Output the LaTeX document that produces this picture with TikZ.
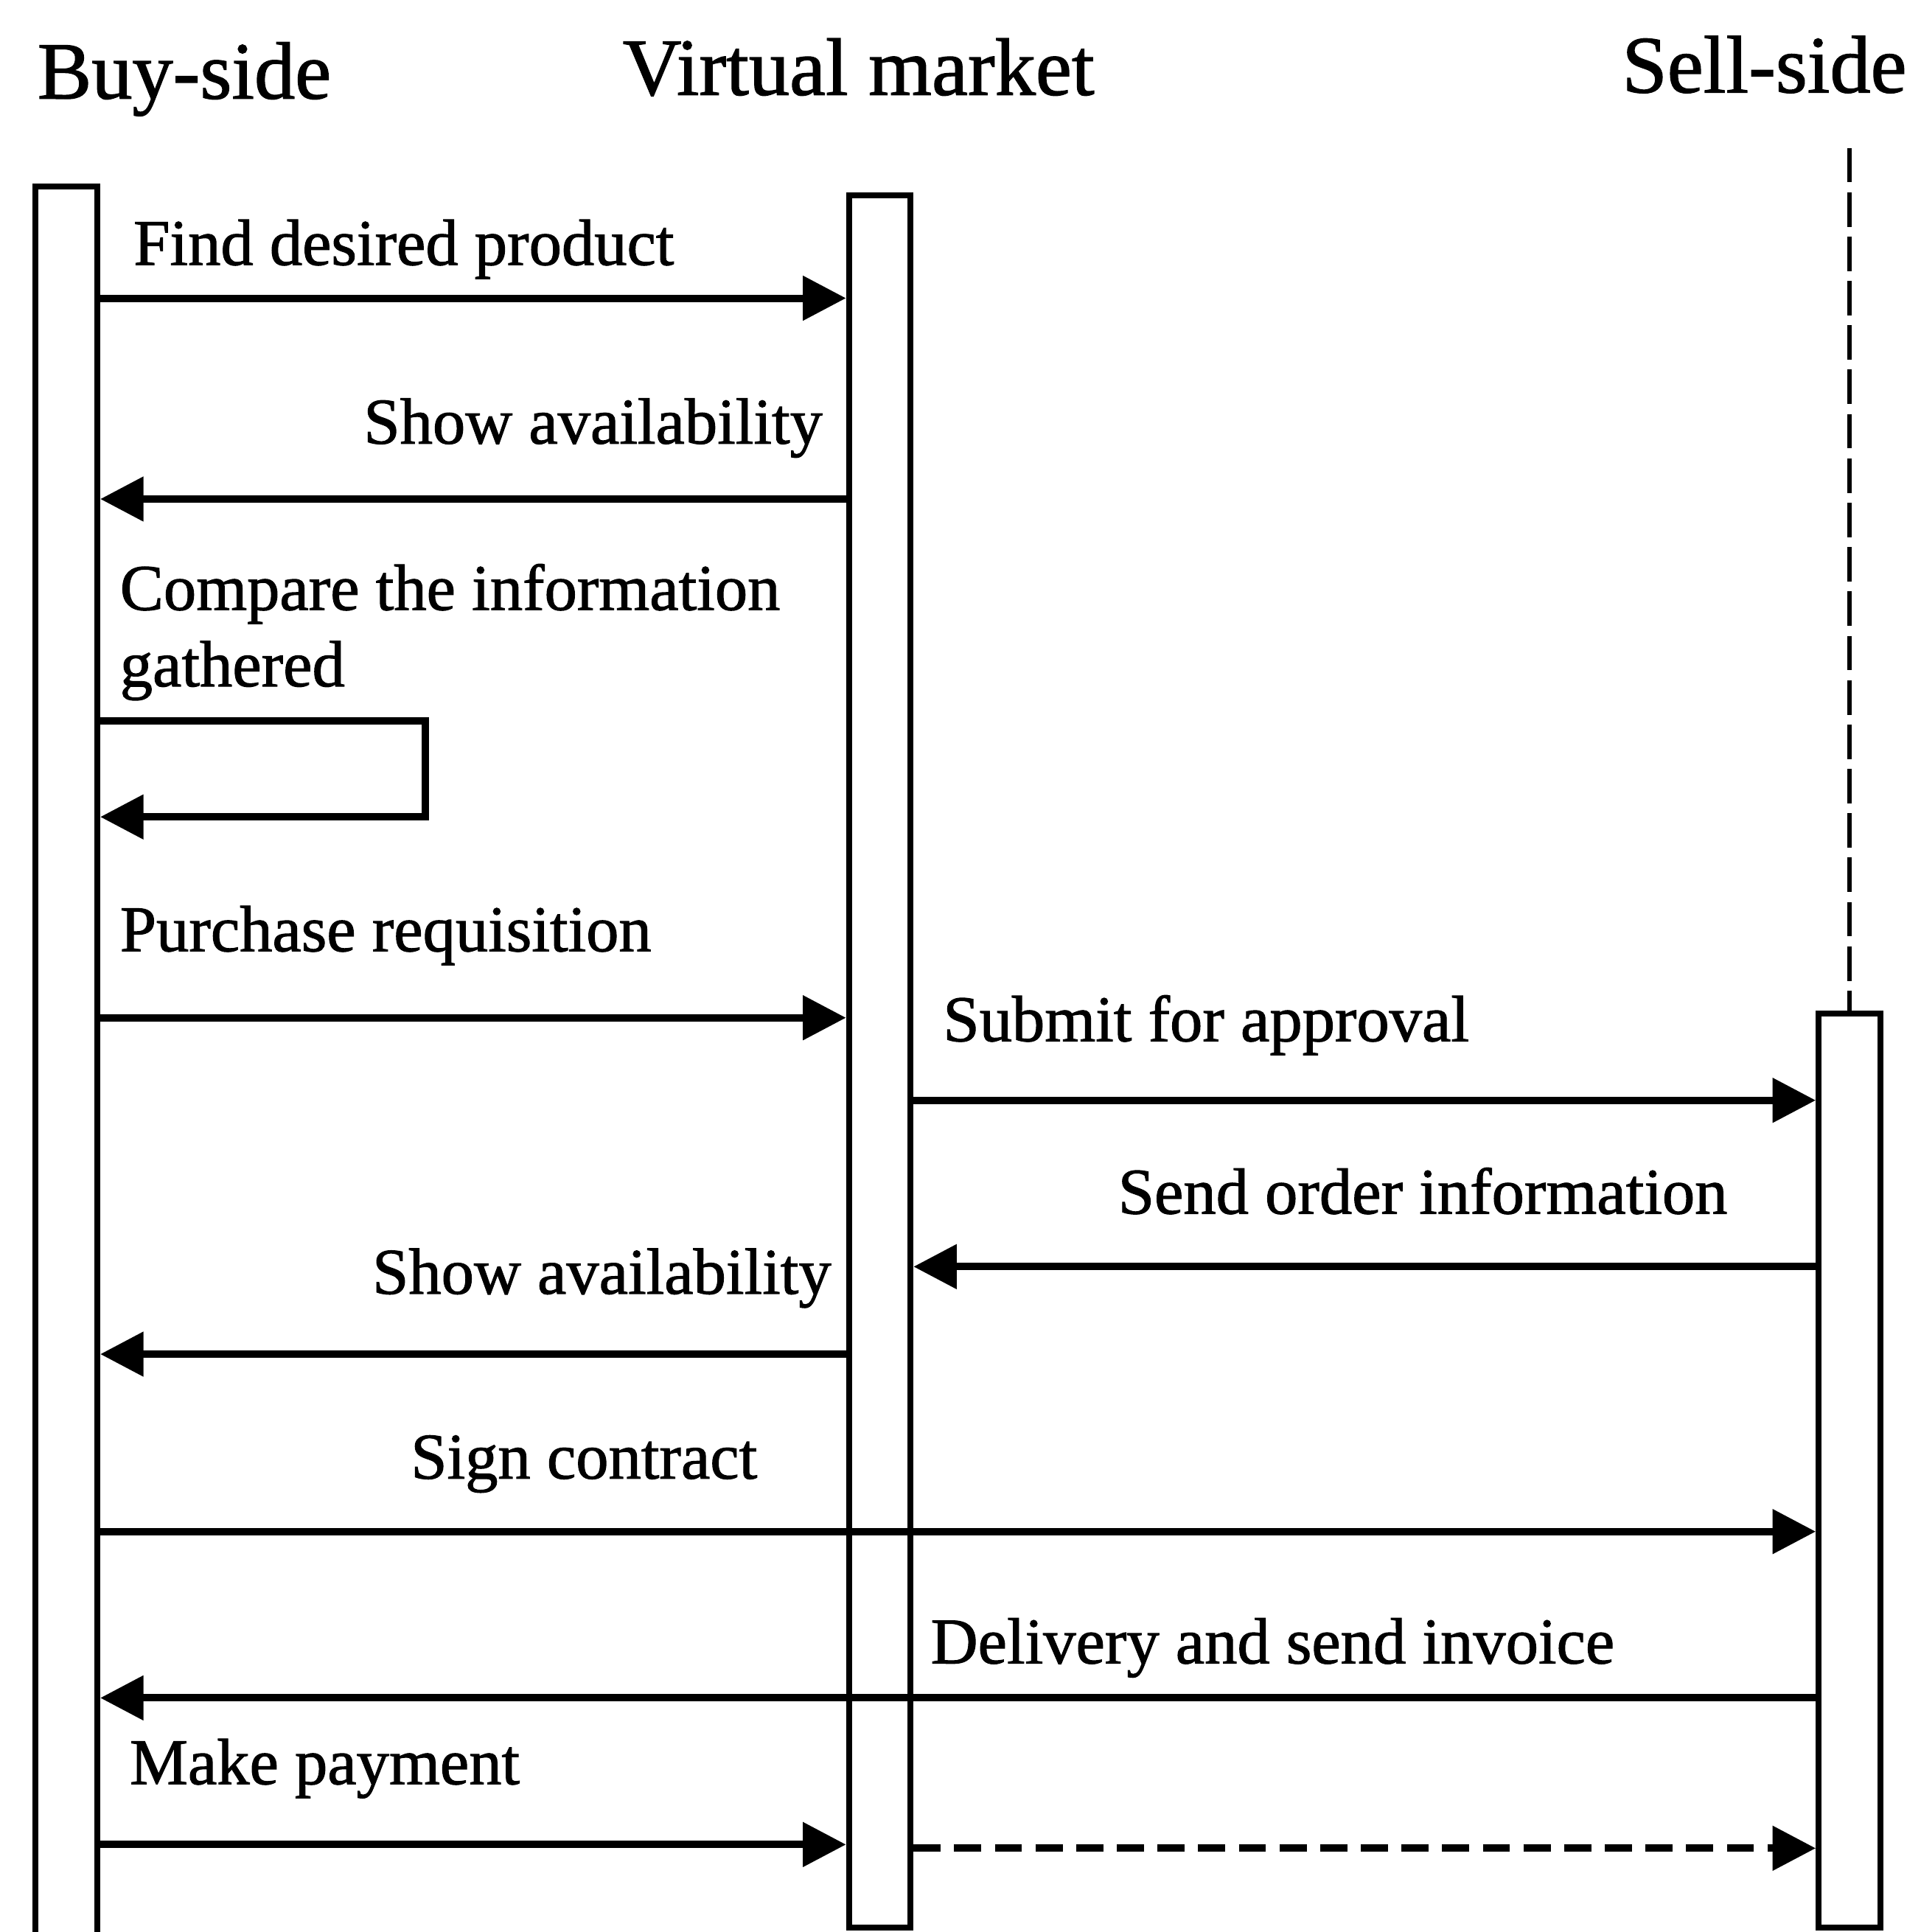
\documentclass[tikz,border=0pt]{standalone}
\usepackage{fontspec}
\setmainfont{Liberation Serif}[UprightFeatures={FakeBold=1.2}]
\usetikzlibrary{arrows.meta}

\begin{document}
\begin{tikzpicture}[x=0.5pt,y=-0.5pt,
  lane/.style={draw, line width=2.4pt, rectangle, minimum width=25pt, anchor=north, inner sep=0pt},
  msg/.style={line width=3pt, line join=miter, -{Triangle[length=17.5pt,width=17.5pt]}},
  lbl/.style={inner sep=0pt, font=\fontsize{26.5}{31}\selectfont},
  head/.style={inner sep=0pt, font=\fontsize{33}{40}\selectfont}]

\path[use as bounding box] (0,0) rectangle (1559,1568);

% participant headings
\node[head, anchor=base west] (tbuy) at (30,80) {Buy-side};
\node[head, anchor=base west] (tvm) at (505,77) {Virtual market};
\node[head, anchor=base west] (tsell) at (1316,75) {Sell-side};

% activation bars
\node[lane, minimum height=725.5pt] (buy) at (54,149) {};
\node[lane, minimum height=703pt] (vm) at (714,156) {};
\node[lane, minimum height=371pt] (sell) at (1501,820) {};

% sell-side lifeline before activation
\coordinate (lifetop) at (1503,120);
\draw[line width=1.9pt, dash pattern=on 14pt off 4pt] (sell.north |- lifetop) -- (sell.north);

% messages
\node[lbl, anchor=base west] (m1) at (108,215) {Find desired product};
\draw[msg] (buy.east |- 0,242) -- (vm.west |- 0,242);

\node[lbl, anchor=base east] (m2) at (668,360) {Show availability};
\draw[msg] (vm.west |- 0,405) -- (buy.east |- 0,405);

\node[lbl, anchor=base west, align=left] (m3) at (97,557) {Compare the information\\gathered};
\draw[msg] (buy.east |- 0,585) -- (345,585) -- (345,663) -- (buy.east |- 0,663);

\node[lbl, anchor=base west] (m4) at (97,772) {Purchase requisition};
\draw[msg] (buy.east |- 0,826) -- (vm.west |- 0,826);

\node[lbl, anchor=base west] (m5) at (765,845) {Submit for approval};
\draw[msg] (vm.east |- 0,893) -- (sell.west |- 0,893);

\node[lbl, anchor=base west] (m6) at (907,985) {Send order information};
\draw[msg] (sell.west |- 0,1028) -- (vm.east |- 0,1028);

\node[lbl, anchor=base east] (m7) at (675,1050) {Show availability};
\draw[msg] (vm.west |- 0,1099) -- (buy.east |- 0,1099);

\node[lbl, anchor=base west] (m8) at (333,1200) {Sign contract};
\draw[msg] (buy.east |- 0,1243) -- (sell.west |- 0,1243);

\node[lbl, anchor=base west] (m9) at (755,1350) {Delivery and send invoice};
\draw[msg] (sell.west |- 0,1378) -- (buy.east |- 0,1378);

\node[lbl, anchor=base west] (m10) at (105,1448) {Make payment};
\draw[msg] (buy.east |- 0,1497) -- (vm.west |- 0,1497);
\draw[msg, dash pattern=on 11pt off 5.5pt] (vm.east |- 0,1500) -- (sell.west |- 0,1500);

\end{tikzpicture}
\end{document}
